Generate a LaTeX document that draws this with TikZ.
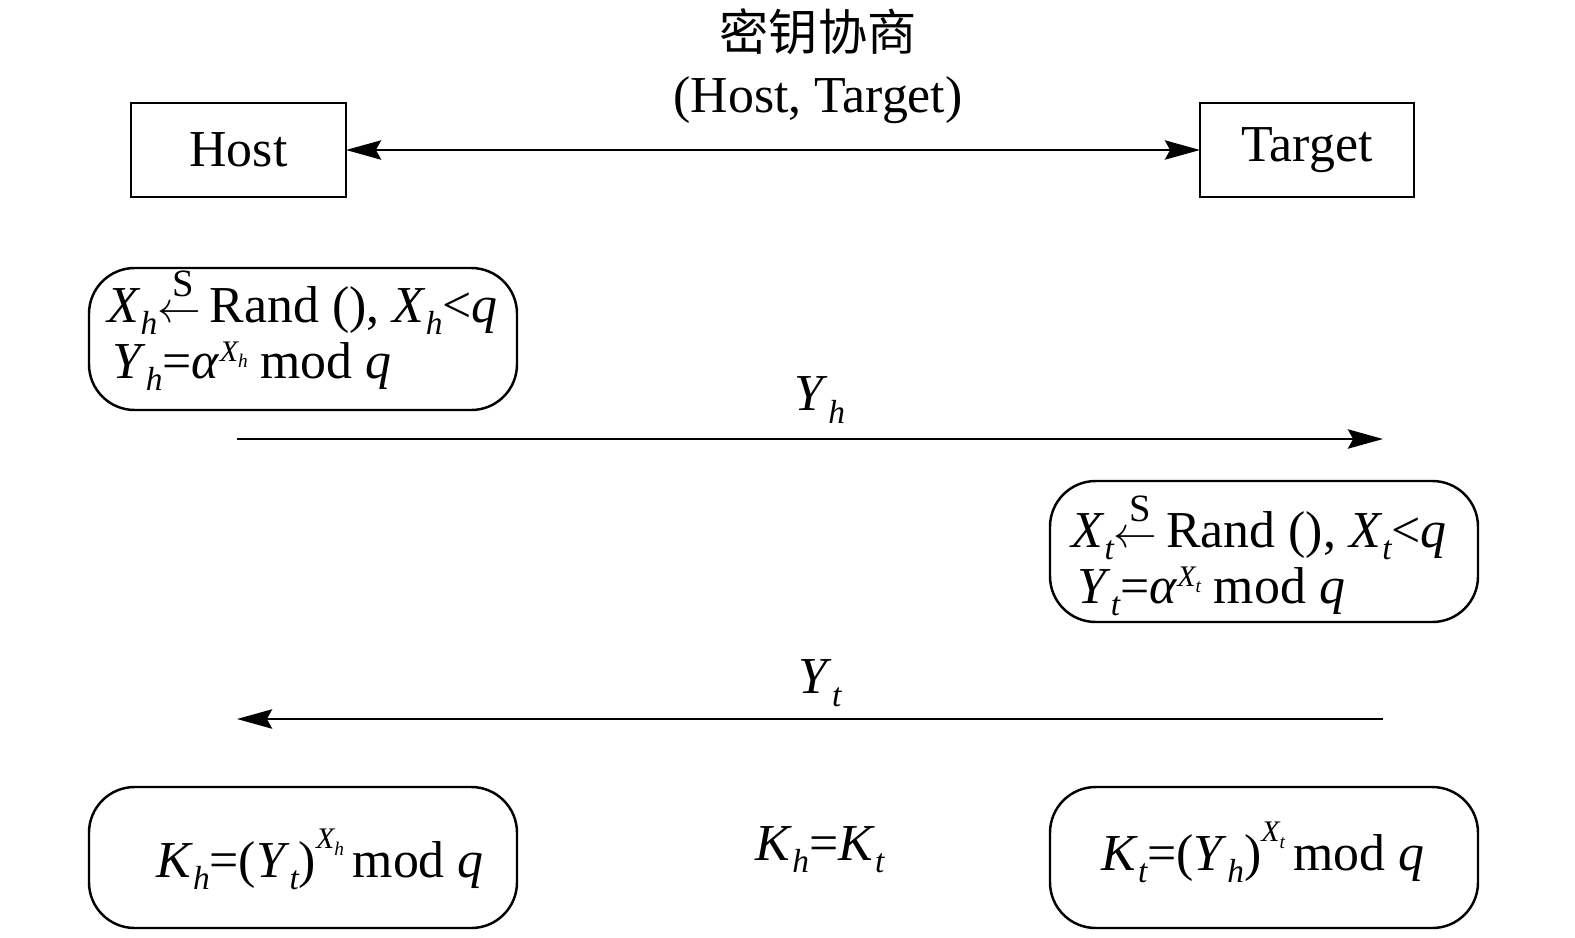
\documentclass[tikz,border=0pt]{standalone}
\usepackage{fontspec}
\setmainfont{Liberation Serif}
\newfontfamily\cjk{Noto Sans CJK SC}
\usetikzlibrary{arrows.meta}
\newcommand{\dn}[1]{\raisebox{-0.24em}{\fontsize{19}{19}\selectfont\itshape #1}}
\newcommand{\upx}[3]{\raisebox{#1}{\fontsize{17}{17}\selectfont\itshape #2\raisebox{-0.22em}{\fontsize{11}{11}\selectfont #3}}}
\newcommand{\sarr}{\makebox[0pt][l]{\makebox[1em]{\raisebox{0.5em}{\fontsize{22}{22}\selectfont S}}}$\leftarrow$}
\tikzset{
  every node/.style={font=\fontsize{29.5}{29.5}\selectfont, inner sep=0pt},
  roundbox/.style={draw, line width=1.4pt, rounded corners=26pt},
  sqbox/.style={draw, line width=1.3pt},
  msg/.style={line width=1.3pt, -{Stealth[length=20pt,width=11pt,inset=3pt]}},
}
\begin{document}
\begin{tikzpicture}[x=0.02cm,y=-0.02cm]
\useasboundingbox (0,0) rectangle (1575,937);
% top boxes
\draw[sqbox] (131,103) rectangle (346,197);
\node (hostc) at (238.5,150) {Host};
\coordinate (hostE) at (346,150);
\draw[sqbox] (1200,103) rectangle (1414,197);
\node (targc) at (1307,150) {Target};
\coordinate (targW) at (1200,150);
\draw[line width=1.3pt, {Stealth[length=20pt,width=11pt,inset=3pt]}-{Stealth[length=20pt,width=11pt,inset=3pt]}] (hostE) -- (targW);
\node (title) at (818,32) {\cjk\fontsize{28}{28}\selectfont 密钥协商};
\node (pair) at (818,100) {(Host, Target)};
% box 1
\draw[roundbox] (89,268) rectangle (517,410);
\node[anchor=base west] (h1) at (107,322) {\textit{X}\dn{h}\sarr\,Rand (), \textit{X}\dn{h}<\textit{q}};
\node[anchor=base west] (h2) at (112,378) {\textit{Y}\dn{h}=\textit{α}\upx{0.32em}{X}{h} mod \textit{q}};
% msg Yh
\coordinate (a1s) at (237,439);
\coordinate (a1e) at (1383,439);
\draw[msg] (a1s) -- (a1e);
\node (lyh) at (820,400) {\textit{Y}\dn{h}};
% box 2
\draw[roundbox] (1050,481) rectangle (1478,622);
\node[anchor=base west] (t1) at (1071,547) {\textit{X}\dn{t}\sarr\,Rand (), \textit{X}\dn{t}<\textit{q}};
\node[anchor=base west] (t2) at (1077,603) {\textit{Y}\dn{t}=\textit{α}\upx{0.32em}{X}{t} mod \textit{q}};
% msg Yt
\coordinate (a2s) at (1383,719);
\coordinate (a2e) at (237,719);
\draw[msg] (a2s) -- (a2e);
\node (lyt) at (820,683) {\textit{Y}\dn{t}};
% bottom boxes
\draw[roundbox] (89,787) rectangle (517,928);
\node[anchor=base] (kh) at (320,877) {\textit{K}\dn{h}=(\textit{Y}\dn{t})\upx{0.55em}{X}{h}\,mod \textit{q}};
\draw[roundbox] (1050,787) rectangle (1478,928);
\node[anchor=base] (kt) at (1263,870) {\textit{K}\dn{t}=(\textit{Y}\dn{h})\upx{0.55em}{X}{t}\,mod \textit{q}};
\node[anchor=base] (keq) at (820,860) {\textit{K}\dn{h}=\textit{K}\dn{t}};
\end{tikzpicture}
\end{document}
